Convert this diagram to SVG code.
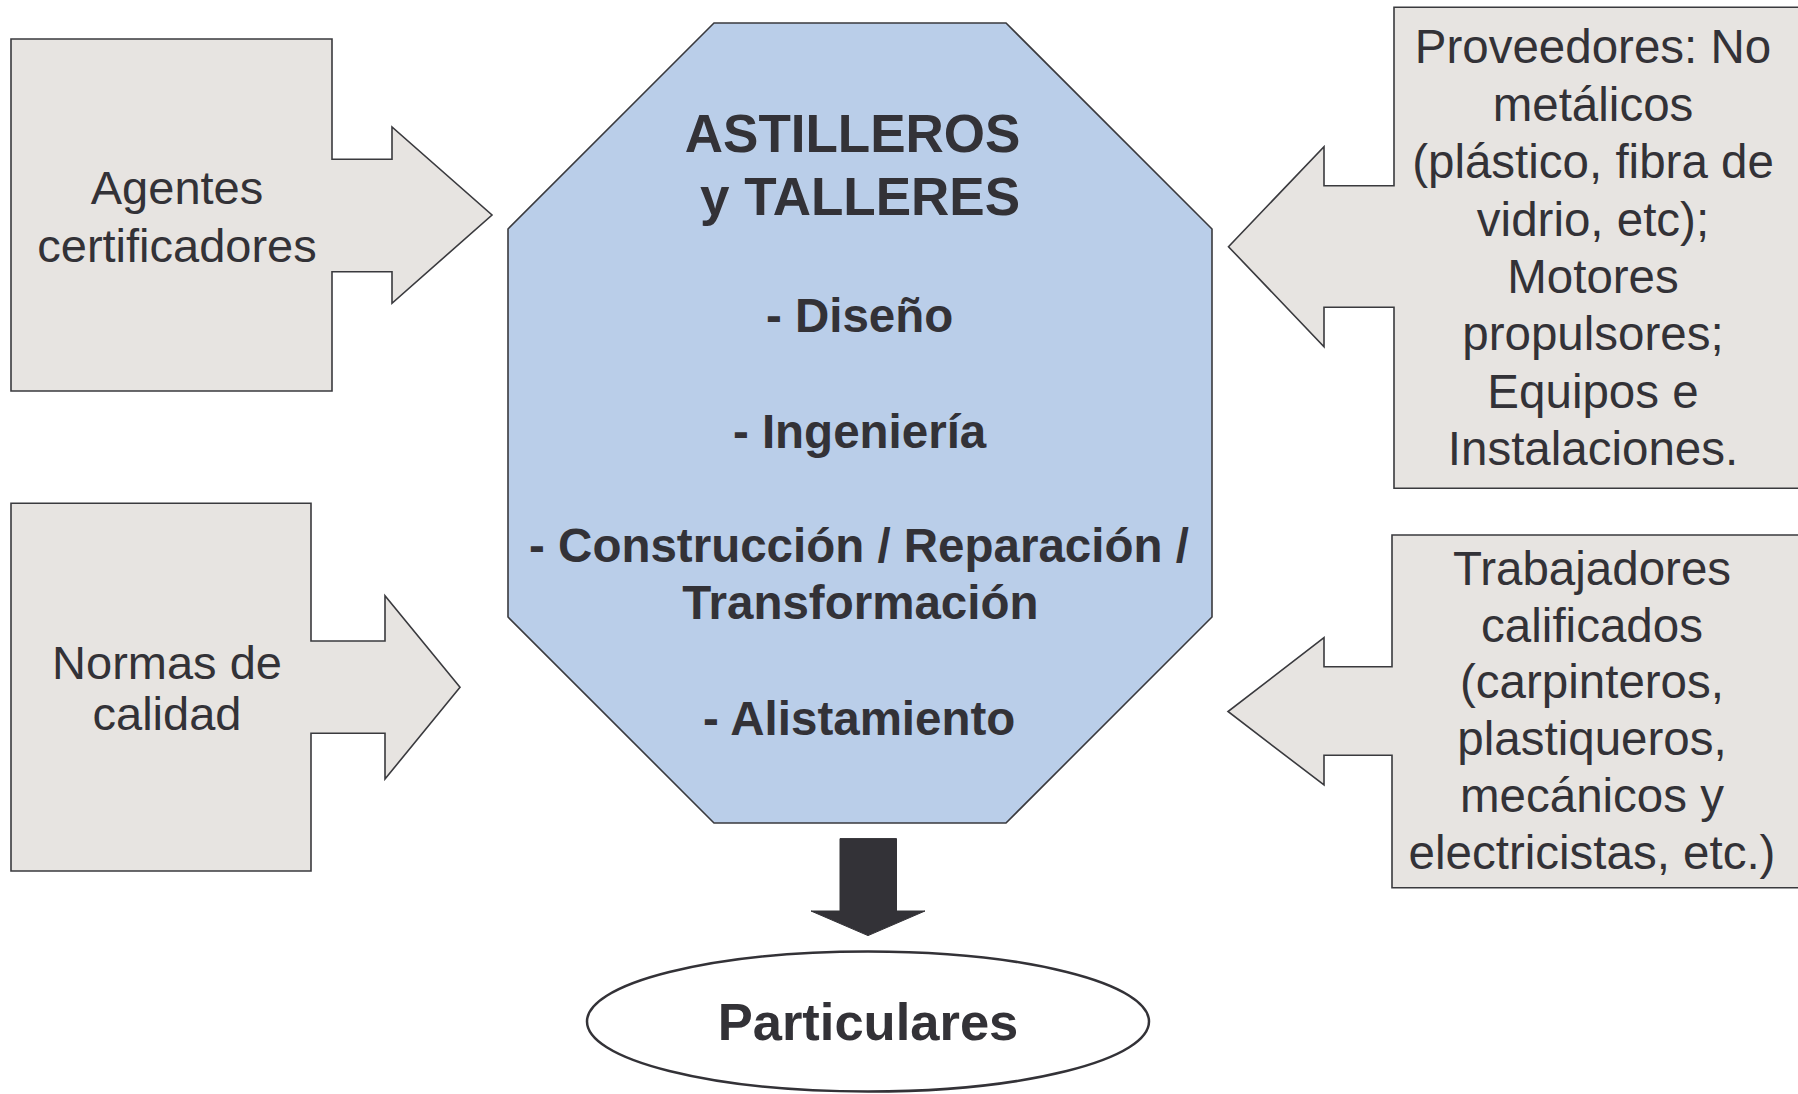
<svg xmlns="http://www.w3.org/2000/svg" width="1798" height="1094" viewBox="0 0 1798 1094">
<style>
.box{fill:#E7E4E1;stroke:#3a3a3e;stroke-width:1.6;stroke-linejoin:miter}
.oct{fill:#BACEE9;stroke:#3a3a3e;stroke-width:1.6}
.t{font-family:"Liberation Sans",Arial,sans-serif;fill:#333237;text-anchor:middle}
.l{font-size:47px}
.r{font-size:47.5px}
.b{font-weight:bold}
.title{font-size:53px}
.item{font-size:47.5px}
</style>
<rect width="1798" height="1094" fill="#ffffff"/>
<g id="agentes">
<polygon class="box" points="11,39 332,39 332,159.3 392,159.3 392,127 492,215 392,303.3 392,271.7 332,271.7 332,391 11,391"/>
<text class="t l" x="177" y="204">Agentes</text>
<text class="t l" x="177" y="262">certificadores</text>
</g>
<g id="normas">
<polygon class="box" points="11,503.3 311,503.3 311,641 385,641 385,595.7 460,687.3 385,779 385,733.3 311,733.3 311,871 11,871"/>
<text class="t l" x="167" y="678.5">Normas de</text>
<text class="t l" x="167" y="729.5">calidad</text>
</g>
<g id="proveedores">
<polygon class="box" points="1394,7.3 1812,7.3 1812,488.3 1394,488.3 1394,307.3 1324,307.3 1324,346.7 1228.5,246.7 1324,146.7 1324,185.7 1394,185.7"/>
<text class="t r" x="1593" y="63.3">Proveedores: No</text>
<text class="t r" x="1593" y="120.7">metálicos</text>
<text class="t r" x="1593" y="178.1">(plástico, fibra de</text>
<text class="t r" x="1593" y="235.5">vidrio, etc);</text>
<text class="t r" x="1593" y="292.9">Motores</text>
<text class="t r" x="1593" y="350.3">propulsores;</text>
<text class="t r" x="1593" y="407.7">Equipos e</text>
<text class="t r" x="1593" y="465.1">Instalaciones.</text>
</g>
<g id="trabajadores">
<polygon class="box" points="1392,535 1812,535 1812,887.7 1392,887.7 1392,755.3 1324,755.3 1324,785 1228,711.5 1324,637.7 1324,666.7 1392,666.7"/>
<text class="t r" x="1592" y="585">Trabajadores</text>
<text class="t r" x="1592" y="641.7">calificados</text>
<text class="t r" x="1592" y="698.4">(carpinteros,</text>
<text class="t r" x="1592" y="755.1">plastiqueros,</text>
<text class="t r" x="1592" y="811.8">mecánicos y</text>
<text class="t r" x="1592" y="868.5">electricistas, etc.)</text>
</g>
<g id="astilleros">
<polygon class="oct" points="714,23 1006,23 1212,229 1212,617 1006,823 714,823 508,617 508,229"/>
<text class="t b title" x="852.6" y="151.7">ASTILLEROS</text>
<text class="t b title" x="860" y="215">y TALLERES</text>
<text class="t b item" x="859.6" y="331.7">- Diseño</text>
<text class="t b item" x="859.6" y="448.3">- Ingeniería</text>
<text class="t b item" x="859" y="562">- Construcción / Reparación /</text>
<text class="t b item" x="860.3" y="619">Transformación</text>
<text class="t b item" x="859.2" y="735.2">- Alistamiento</text>
</g>
<g id="particulares">
<ellipse cx="868" cy="1021.5" rx="281" ry="70" fill="#ffffff" stroke="#333237" stroke-width="2.5"/>
<text class="t b" x="868" y="1040.3" font-size="52.5">Particulares</text>
</g>
<g id="connectors">
<polygon points="840,838.6 896.5,838.6 896.5,911 925,911 868,935.6 811,911 840,911" fill="#333237" stroke="#333237" stroke-width="1"/>
</g>
</svg>
